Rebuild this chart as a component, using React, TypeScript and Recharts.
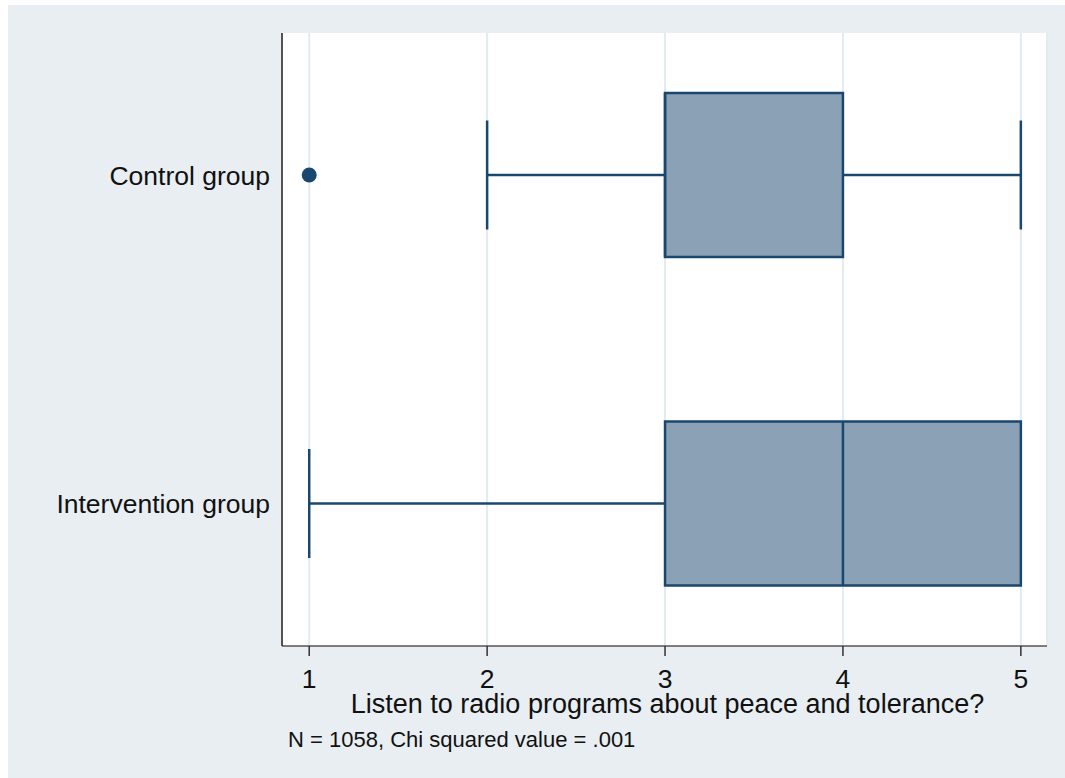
import React from "react";
import { ComposedChart, Bar, XAxis, YAxis, CartesianGrid } from "recharts";

const groups = ["Control group", "Intervention group"];
const lowWhisker = [2, 1];
const q1 = [3, 3];
const median = [3, 4];
const q3 = [4, 5];
const highWhisker = [5, 5];
const outliers = [[1], []];
const xTicks = [1, 2, 3, 4, 5];

const data = groups.map((group, i) => ({
  group,
  whisker: [lowWhisker[i], highWhisker[i]],
  q1: q1[i],
  median: median[i],
  q3: q3[i],
  outliers: outliers[i],
}));

const NAVY = "#1a476f";
const BOX_FILL = "#8ba1b5";
const FONT = "'Liberation Sans', Arial, Helvetica, sans-serif";

// one bar spans the whiskers; everything else is placed along it
function BoxShape(props: any) {
  const { x, y, width, height, payload } = props;
  const [lo, hi] = payload.whisker;
  const px = (v: number) => x + ((v - lo) / (hi - lo)) * width;
  const cy = y + height / 2;
  const cap = height * 0.665;
  const sw = 2.5;
  const left = px(payload.q1);
  const right = px(payload.q3);
  return (
    <g>
      {lo < payload.q1 && (
        <>
          <line x1={px(lo)} x2={left} y1={cy} y2={cy} stroke={NAVY} strokeWidth={sw} />
          <line x1={px(lo)} x2={px(lo)} y1={cy - cap / 2} y2={cy + cap / 2} stroke={NAVY} strokeWidth={sw} />
        </>
      )}
      {hi > payload.q3 && (
        <>
          <line x1={right} x2={px(hi)} y1={cy} y2={cy} stroke={NAVY} strokeWidth={sw} />
          <line x1={px(hi)} x2={px(hi)} y1={cy - cap / 2} y2={cy + cap / 2} stroke={NAVY} strokeWidth={sw} />
        </>
      )}
      <rect
        x={Math.min(left, right)}
        y={y}
        width={Math.abs(right - left)}
        height={height}
        fill={BOX_FILL}
        stroke={NAVY}
        strokeWidth={sw}
      />
      <line x1={px(payload.median)} x2={px(payload.median)} y1={y} y2={y + height} stroke={NAVY} strokeWidth={sw} />
      {payload.outliers.map((o: number, k: number) => (
        <circle key={k} cx={px(o)} cy={cy} r={7.5} fill={NAVY} />
      ))}
    </g>
  );
}

export default function App() {
  return (
    <div
      style={{
        position: "absolute",
        left: 8,
        top: 5,
        width: 1057,
        height: 773,
        background: "#e8eef1",
        fontFamily: FONT,
      }}
    >
      <ComposedChart
        width={1057}
        height={773}
        data={data}
        layout="vertical"
        margin={{ top: 28, right: 18, left: 0, bottom: 87 }}
      >
        <CartesianGrid horizontal={false} stroke="#e3ebef" strokeWidth={2} fill="#ffffff" fillOpacity={1} />
        <XAxis
          type="number"
          domain={[0.847, 5.147]}
          ticks={xTicks}
          allowDataOverflow
          height={45}
          tickSize={10}
          tickMargin={13}
          tick={{ fontSize: 26.5, fill: "#111", fontFamily: FONT }}
          axisLine={{ stroke: "#555", strokeWidth: 1.5 }}
          tickLine={{ stroke: "#333", strokeWidth: 1.5 }}
        />
        <YAxis
          type="category"
          dataKey="group"
          width={274}
          padding={{ top: -22, bottom: -22 }}
          tickLine={false}
          tickSize={0}
          tickMargin={12}
          tick={{ fontSize: 26.5, fill: "#111", fontFamily: FONT }}
          axisLine={{ stroke: "#222", strokeWidth: 1.5 }}
        />
        <Bar dataKey="whisker" barSize={164} shape={BoxShape} isAnimationActive={false} />
      </ComposedChart>
      <div
        style={{
          position: "absolute",
          left: 277,
          width: 765,
          top: 686,
          textAlign: "center",
          fontSize: 27,
          lineHeight: 1,
          color: "#111",
          whiteSpace: "nowrap",
        }}
      >
        Listen to radio programs about peace and tolerance?
      </div>
      <div
        style={{
          position: "absolute",
          left: 280,
          top: 724,
          fontSize: 22,
          lineHeight: 1,
          color: "#111",
          whiteSpace: "nowrap",
        }}
      >
        N = 1058, Chi squared value = .001
      </div>
    </div>
  );
}
